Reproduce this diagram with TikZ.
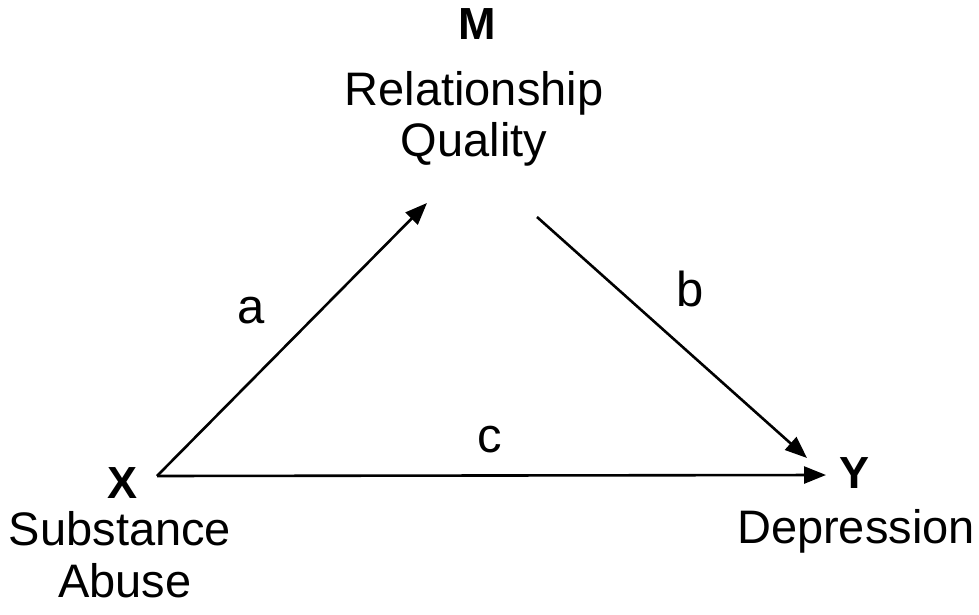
\documentclass[tikz,border=0pt]{standalone}
\usepackage{fontspec}
\setmainfont{Liberation Sans}
\usetikzlibrary{arrows.meta}
\begin{document}
\begin{tikzpicture}[x=1pt,y=-1pt,
  varname/.style={inner sep=0pt,anchor=base,font=\fontsize{47}{52}\selectfont},
  varletter/.style={inner sep=0pt,anchor=base,font=\fontsize{45}{50}\selectfont\bfseries},
  pathlabel/.style={inner sep=0pt,anchor=base,font=\fontsize{49}{54}\selectfont},
  effect/.style={line width=2.6pt,-{Triangle[length=22pt,width=17pt]}}]
\useasboundingbox (0,0) rectangle (979,615);
% mediator
\node[varletter] (mlet) at (477,40) {M};
\node[varname] (mrel) at (474,106) {Relationship};
\node[varname] (mqual) at (474,157) {Quality};
% predictor
\node[varletter] (xlet) at (123,498) {X};
\node[varname] (xsub) at (120,545) {Substance};
\node[varname] (xabu) at (125,597) {Abuse};
% outcome
\node[varletter] (ylet) at (854,488) {Y};
\node[varname] (ydep) at (856,543) {Depression};
% connector end points
\coordinate (xs) at (157,476);
\coordinate (ma) at (427,203);
\coordinate (mb) at (537,217);
\coordinate (yb) at (807,458);
\coordinate (yc) at (826,475);
\draw[effect] (xs) -- (ma);
\draw[effect] (mb) -- (yb);
\draw[effect] (xs) -- (yc);
% path labels
\node[pathlabel] (la) at (251,323) {a};
\node[pathlabel] (lb) at (690,306) {b};
\node[pathlabel] (lc) at (490,452) {c};
\end{tikzpicture}
\end{document}
